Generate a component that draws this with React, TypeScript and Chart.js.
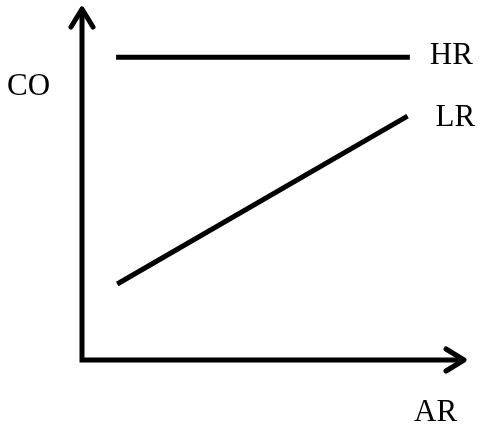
import React, { useEffect, useRef } from "react";
import { Chart, registerables } from "chart.js";

Chart.register(...registerables);

// Schematic data (abstract units)
const hrX = [0.89, 8.56];
const hrY = [8.6, 8.6];
const lrX = [0.92, 8.5];
const lrY = [2.16, 6.93];
const seriesNames = ["HR", "LR"];
const xAxisLabel = "AR";
const yAxisLabel = "CO";

const FONT = "31px 'Liberation Serif', serif";
const LW = 5;

const overlay = {
  id: "overlay",
  afterDraw(chart: any) {
    const { ctx, chartArea } = chart;
    const { left, right, top, bottom } = chartArea;
    const xs = chart.scales.x;
    const ys = chart.scales.y;
    ctx.save();
    ctx.strokeStyle = "#000";
    ctx.lineWidth = LW;
    ctx.lineCap = "butt";
    ctx.lineJoin = "miter";
    // axes
    ctx.beginPath();
    ctx.moveTo(left, top + 2);
    ctx.lineTo(left, bottom + 2.5);
    ctx.moveTo(left - 2.5, bottom);
    ctx.lineTo(right - 2, bottom);
    ctx.stroke();
    // arrowheads
    ctx.lineCap = "round";
    ctx.lineJoin = "round";
    ctx.beginPath();
    ctx.moveTo(left - 11, top + 19);
    ctx.lineTo(left, top + 1);
    ctx.lineTo(left + 11, top + 19);
    ctx.moveTo(right - 19, bottom - 11);
    ctx.lineTo(right - 1, bottom);
    ctx.lineTo(right - 19, bottom + 11);
    ctx.stroke();

    // labels
    ctx.fillStyle = "#000";
    ctx.font = FONT;
    ctx.textBaseline = "middle";
    ctx.textAlign = "left";
    ctx.fillText(seriesNames[0], xs.getPixelForValue(hrX[1]) + 20, ys.getPixelForValue(hrY[1]) - 1);
    ctx.fillText(seriesNames[1], xs.getPixelForValue(lrX[1]) + 28, ys.getPixelForValue(lrY[1]) + 2);
    ctx.fillText(yAxisLabel, 7, 87);
    ctx.fillText(xAxisLabel, 414, 413);
    ctx.restore();
  },
};

export default function App() {
  const ref = useRef<HTMLCanvasElement>(null);
  useEffect(() => {
    if (!ref.current) return;
    const chart = new Chart(ref.current, {
      type: "scatter",
      data: {
        datasets: [
          {
            label: seriesNames[0],
            data: hrX.map((x, i) => ({ x, y: hrY[i] })),
            showLine: true,
            borderColor: "#000",
            borderWidth: LW,
            borderCapStyle: "butt",
            pointRadius: 0,
          },
          {
            label: seriesNames[1],
            data: lrX.map((x, i) => ({ x, y: lrY[i] })),
            showLine: true,
            borderColor: "#000",
            borderWidth: LW,
            borderCapStyle: "butt",
            pointRadius: 0,
          },
        ],
      },
      options: {
        animation: false,
        responsive: false,
        layout: { padding: { left: 82, right: 15, top: 8, bottom: 70 } },
        plugins: { legend: { display: false }, tooltip: { enabled: false } },
        scales: {
          x: { type: "linear", min: 0, max: 10, display: false },
          y: { type: "linear", min: 0, max: 10, display: false },
        },
      },
      plugins: [overlay],
    } as any);
    return () => chart.destroy();
  }, []);
  return (
    <div style={{ position: "fixed", left: 0, top: 0, width: 480, height: 430, background: "#fff" }}>
      <canvas ref={ref} width={480} height={430} />
    </div>
  );
}
